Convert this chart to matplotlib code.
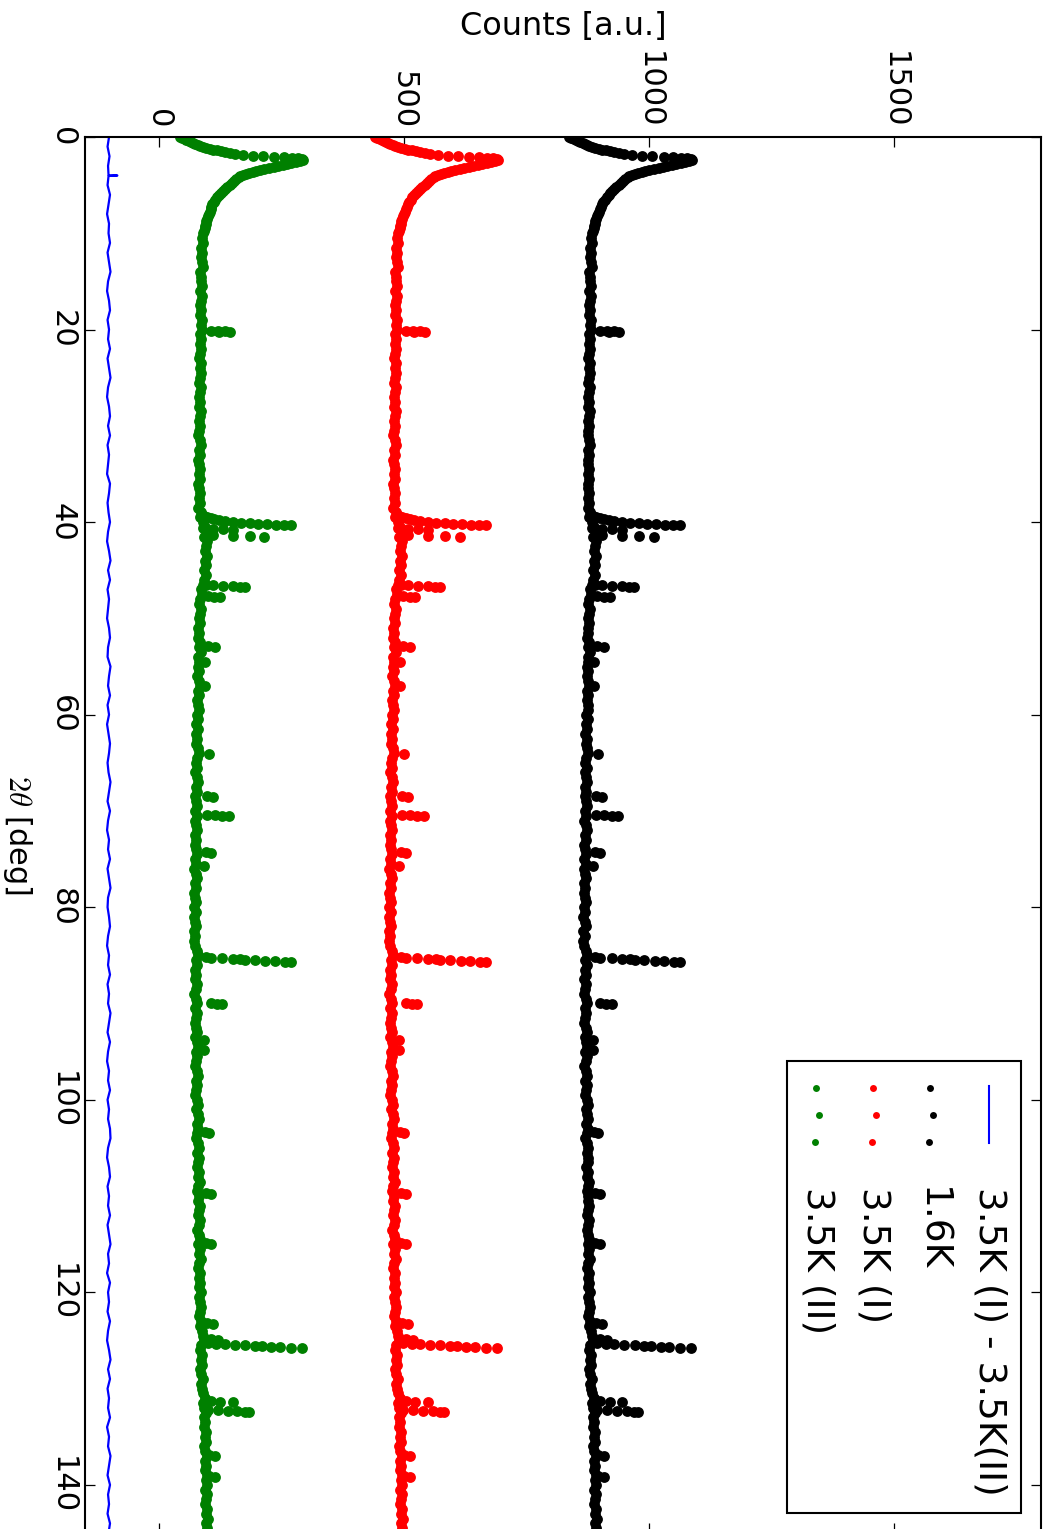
import numpy as np
import matplotlib
matplotlib.use('Agg')
import matplotlib.pyplot as plt
from matplotlib.patches import Rectangle

plt.rcParams['mathtext.fontset'] = 'cm'

# 1.6K pattern, baseline part sampled every 0.5 deg from 10 to 145 deg
tt_grid = np.arange(10.0, 145.01, 0.5)
base_counts = [
    884, 882, 885, 881, 883, 880, 882, 884, 879, 881,
    880, 883, 879, 882, 880, 878, 881, 879, 882, 880,
    883, 879, 880, 878, 881, 879, 877, 880, 878, 881,
    879, 877, 880, 878, 876, 879, 877, 880, 878, 876,
    879, 877, 875, 878, 880, 876, 878, 875, 877, 879,
    876, 878, 875, 877, 879, 876, 878, 875, 880, 878,
    884, 889, 892, 887, 893, 890, 888, 892, 889, 891,
    887, 890, 886, 884, 880, 882, 879, 877, 880, 878,
    876, 879, 875, 877, 874, 878, 876, 880, 875, 877,
    874, 877, 873, 876, 878, 874, 876, 873, 875, 877,
    872, 875, 871, 874, 870, 873, 871, 874, 876, 872,
    870, 873, 869, 872, 874, 870, 872, 869, 871, 873,
    869, 872, 868, 871, 873, 869, 871, 868, 870, 872,
    868, 871, 867, 870, 872, 868, 870, 867, 869, 871,
    867, 870, 866, 869, 871, 866, 869, 866, 868, 872,
    874, 870, 873, 869, 871, 868, 872, 870, 867, 871,
    873, 869, 872, 870, 868, 871, 873, 869, 872, 874,
    870, 873, 871, 868, 872, 874, 870, 873, 871, 869,
    873, 875, 871, 874, 876, 872, 875, 873, 870, 874,
    876, 873, 877, 875, 872, 876, 874, 878, 875, 873,
    877, 875, 879, 876, 874, 878, 876, 873, 877, 879,
    875, 878, 876, 880, 877, 874, 878, 876, 879, 877,
    880, 877, 879, 881, 878, 876, 880, 878, 882, 884,
    886, 881, 879, 882, 880, 883, 879, 881, 884, 880,
    882, 885, 888, 884, 887, 890, 886, 889, 887, 891,
    888, 890, 886, 889, 892, 888, 891, 889, 893, 890,
    892, 889, 893, 891, 888, 892, 890, 894, 891, 893,
    892,
]

# low angle part (0 - 10 deg) with the big peak near 2 deg
start_tt = [0.0, 0.1, 0.2, 0.3, 0.4, 0.5, 0.6, 0.7, 0.8, 0.9,
            1.0, 1.1, 1.2, 1.3, 1.4, 1.5, 1.6, 1.7, 1.8,
            1.9, 1.95, 2.0, 2.05, 2.1, 2.15, 2.2, 2.25,
            2.4, 2.5, 2.6, 2.7, 2.8, 2.9, 3.0, 3.1, 3.2, 3.3,
            3.4, 3.5, 3.6, 3.7, 3.8, 3.9, 4.0,
            4.2, 4.4, 4.6, 4.8, 5.0, 5.2, 5.4, 5.6, 5.8, 6.0,
            6.25, 6.5, 6.75, 7.0, 7.25, 7.5, 7.75, 8.0, 8.25, 8.5,
            8.75, 9.0, 9.25, 9.5, 9.75]
start_counts = [838, 842, 847, 851, 856, 860, 865, 869, 874, 879,
                885, 891, 898, 905, 913, 921, 930, 940, 950,
                966, 987, 1007, 1030, 1050, 1066, 1078, 1087,
                1088, 1082, 1074, 1065, 1056, 1047, 1038, 1029, 1020, 1010,
                1001, 993, 986, 979, 972, 966, 960,
                958, 952, 947, 943, 939, 934, 929, 925, 921, 918,
                914, 910, 907, 904, 902, 900, 898, 896, 894, 893,
                891, 890, 889, 888, 887]

# Bragg peaks (2theta, counts)
peak_points = [
    (20.1, 900), (20.15, 915), (20.2, 930), (20.25, 940), (20.3, 918),
    (39.3, 882), (39.4, 887), (39.5, 893), (39.6, 900), (39.7, 908),
    (39.8, 918), (39.9, 930), (40.0, 945), (40.05, 962), (40.1, 980),
    (40.15, 997), (40.2, 1015), (40.25, 1033), (40.3, 1050), (40.35, 1064),
    (40.65, 885), (40.7, 905), (40.75, 925), (40.8, 945),
    (41.35, 905), (41.4, 945), (41.45, 980), (41.5, 1010),
    (46.5, 890), (46.55, 905), (46.6, 925), (46.65, 945), (46.7, 960),
    (46.75, 970), (47.7, 895), (47.75, 908), (47.8, 920),
    (52.9, 895), (52.95, 909), (54.5, 889), (57.0, 888), (64.1, 897),
    (68.5, 893), (68.55, 905),
    (70.4, 893), (70.45, 909), (70.5, 924), (70.55, 938),
    (74.3, 890), (74.35, 901), (75.7, 887),
    (85.2, 890), (85.25, 901), (85.3, 924), (85.35, 946), (85.4, 961),
    (85.45, 971), (85.5, 991), (85.55, 1012), (85.6, 1032), (85.65, 1052),
    (85.7, 1064),
    (90.0, 900), (90.05, 913), (90.1, 924),
    (93.8, 887), (94.8, 886), (103.4, 888), (103.45, 897),
    (109.7, 890), (109.75, 901), (114.9, 890), (114.95, 901),
    (123.2, 893), (123.25, 905),
    (124.9, 900), (125.0, 915), (125.3, 895), (125.35, 912), (125.4, 930),
    (125.45, 950), (125.5, 971), (125.55, 990), (125.6, 1005), (125.65, 1024),
    (125.7, 1042), (125.75, 1064), (125.8, 1087),
    (131.3, 900), (131.35, 920), (131.4, 946),
    (132.2, 895), (132.25, 915), (132.3, 935), (132.35, 955), (132.4, 970),
    (132.45, 979),
    (136.9, 897), (137.0, 909), (139.1, 897), (139.2, 909),
]

# stacked datasets (shift subtracted from the 1.6K pattern)
labels = ['1.6K', '3.5K (I)', '3.5K (II)']
colors = ['k', 'r', 'g']
shifts = [0, 396, 794]

# difference 3.5K(I) - 3.5K(II), plotted with -100 offset, every 1 deg
diff_tt = np.arange(0.0, 145.01, 1.0)
diff_counts = [
    -101, -104, -100, -103, -101, -104, -99, -102, -105, -101,
    -102, -99, -104, -101, -98, -103, -105, -101, -99, -104,
    -101, -103, -99, -104, -101, -98, -103, -105, -101, -99,
    -103, -99, -104, -101, -103, -105, -99, -101, -104, -102,
    -99, -103, -105, -101, -98, -103, -99, -104, -101, -103,
    -105, -101, -99, -103, -104, -98, -101, -103, -99, -104,
    -101, -105, -102, -99, -101, -104, -102, -98, -101, -104,
    -99, -103, -105, -101, -103, -99, -104, -101, -98, -103,
    -104, -101, -99, -103, -105, -101, -103, -99, -104, -101,
    -103, -98, -101, -104, -99, -103, -105, -101, -103, -99,
    -104, -101, -103, -99, -98, -103, -105, -101, -99, -104,
    -101, -103, -99, -104, -101, -98, -103, -101, -105, -99,
    -103, -101, -104, -99, -103, -105, -101, -98, -103, -99,
    -104, -101, -103, -99, -105, -101, -103, -98, -101, -104,
    -99, -103, -101, -104, -99, -102,
]
blip_tt = [3.95, 4.0, 4.05]
blip_counts = [-102, -84, -102]

# ---- assemble
peak_tt, peak_counts = zip(*peak_points)
tt_all = np.concatenate([start_tt, tt_grid, peak_tt])
counts_all = np.concatenate([start_counts, base_counts, peak_counts])

d_tt = np.concatenate([diff_tt, blip_tt])
d_counts = np.concatenate([diff_counts, blip_counts])
order = np.argsort(d_tt, kind='stable')
d_tt, d_counts = d_tt[order], d_counts[order]

# ---- figure (drawn already turned by 90 deg: 2theta runs downwards)
W, H = 1051, 1529
ax_l, ax_r, ax_t, ax_b = 85, 1041, 137, 1533
fig = plt.figure(figsize=(W / 100, H / 100), dpi=100)
ax = fig.add_axes([ax_l / W, (H - ax_b) / H, (ax_r - ax_l) / W, (ax_b - ax_t) / H])

ax.plot(d_counts, d_tt, '-', color='b', lw=1.6)
for lab, c, s in zip(labels, colors, shifts):
    ax.plot(counts_all - s, tt_all, 'o', color=c, ms=7.8, mew=0, linestyle='none')

ax.set_xlim(-150, 1800)
ax.set_ylim(145, 0)

for sp in ax.spines.values():
    sp.set_linewidth(1.5)

ax.tick_params(axis='both', direction='in', length=7, width=0.9,
               top=True, bottom=True, left=True, right=True,
               labeltop=True, labelbottom=False, labelsize=22)
ax.tick_params(axis='x', pad=6)
ax.tick_params(axis='y', pad=6)
ax.set_xticks([0, 500, 1000, 1500], labels=['0', '500', '1000', '1500'],
              rotation=-90, ha='center', va='bottom')
yt = [0, 20, 40, 60, 80, 100, 120, 140]
ax.set_yticks(yt, labels=[str(v) for v in yt], rotation=-90, ha='right', va='center')

ax.xaxis.set_label_position('top')
ax.set_xlabel('Counts [a.u.]', fontsize=23, labelpad=12)
ax.set_ylabel(r'$\mathit{2}\theta$ [deg]', fontsize=22, rotation=-90, va='top', ha='center',
              labelpad=10)


# ---- legend, drawn by hand so it turns with the plot
def ax_xy(px, py):
    return (px - ax_l) / (ax_r - ax_l), (ax_b - py) / (ax_b - ax_t)


x0, y0 = ax_xy(787, 1513)
x1, y1 = ax_xy(1021, 1061)
ax.add_patch(Rectangle((x0, y0), x1 - x0, y1 - y0, transform=ax.transAxes,
                       fc='w', ec='k', lw=1.5, zorder=5, clip_on=False))

leg_labels = ['3.5K (I) - 3.5K(II)'] + labels
leg_colors = ['b'] + colors
leg_cols = [989, 930, 873, 816]
dot_rows = [1088, 1115, 1142]
dot_dx = [0, 3, -1]
for i, (lab, c, col) in enumerate(zip(leg_labels, leg_colors, leg_cols)):
    if i == 0:
        xa, ya = ax_xy(col, 1086)
        xb, yb = ax_xy(col, 1143)
        ax.plot([xa, xb], [ya, yb], '-', color=c, lw=1.5, transform=ax.transAxes,
                zorder=6, clip_on=False)
    else:
        pts = [ax_xy(col + dx, py) for dx, py in zip(dot_dx, dot_rows)]
        ax.plot([p[0] for p in pts], [p[1] for p in pts], 'o', color=c, ms=5, mew=0,
                transform=ax.transAxes, zorder=6, clip_on=False)
    tx, ty = ax_xy(col + 1, 1187)
    ax.text(tx, ty, lab, transform=ax.transAxes, rotation=-90, ha='center', va='top',
            fontsize=27, zorder=6)

fig.savefig('out.png', dpi=100)
